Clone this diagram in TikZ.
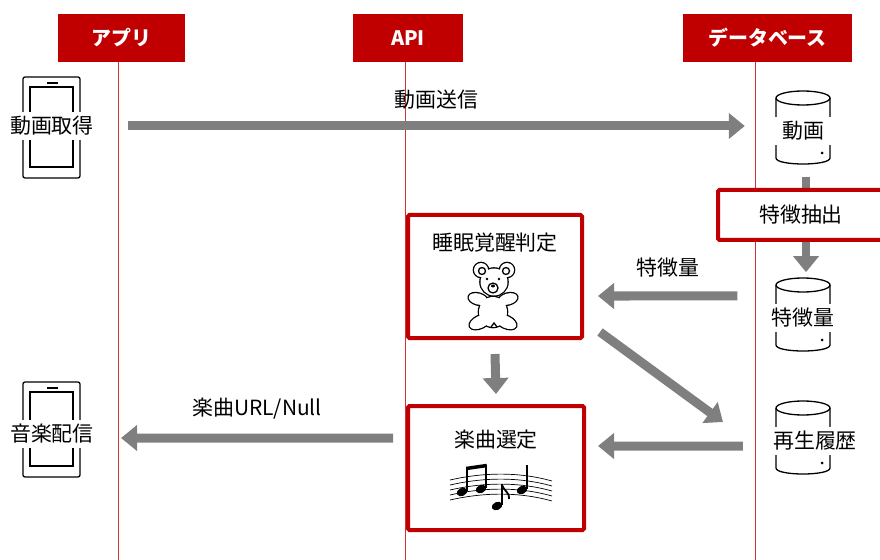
\documentclass[tikz,border=0pt]{standalone}
\usepackage{fontspec}
\newfontfamily\jpfont{Noto Sans CJK JP}
\usepackage{tikz}
\usetikzlibrary{arrows.meta,positioning,calc}

\definecolor{hdrred}{HTML}{C00000}
\definecolor{flowgray}{HTML}{7F7F7F}

% smartphone outline with its caption on top
\newcommand{\handset}[5]{%
	\draw[icon, rounded corners=2bp] (23,#2) rectangle (80,#3);
	\draw[icon] (30,#2+10) rectangle (73,#3-11);
	\draw[icon] (47,#2+6) -- (58,#2+6);
	\node[tag] (#1) at (52,#4) {#5};
}

% storage cylinder: name, x, y, text, text shift
\newcommand{\storage}[5]{%
	\draw[icon] (#2,#3-33) ellipse[x radius=27, y radius=7];
	\draw[icon] (#2-27,#3-33) -- (#2-27,#3+27) .. controls (#2-27,#3+35) and (#2+27,#3+35) .. (#2+27,#3+27) -- (#2+27,#3-33);
	\fill (#2+19,#3+22) circle[radius=1.5];
	\node[tag, minimum width=66bp] (#1) at (#2+#5,#3) {#4};
}

\begin{document}
\begin{tikzpicture}[x=1bp,y=-1bp,>={Triangle[length=16bp,width=25bp]},
	every node/.style={font=\jpfont\fontsize{21}{25}\selectfont},
	lane/.style={fill=hdrred, text=white, inner sep=0pt, minimum height=48bp,
		font=\jpfont\bfseries\fontsize{20}{24}\selectfont},
	life/.style={draw=hdrred!80, line width=0.9bp},
	task/.style={draw=hdrred, line width=4bp, fill=white, rounded corners=1.5bp},
	flow/.style={->, draw=flowgray, line width=9bp},
	icon/.style={line width=1.3bp},
	tag/.style={fill=white, inner xsep=2bp, inner ysep=4bp},
	note/.style={inner sep=0pt}]

	\useasboundingbox (0,0) rectangle (880,560);

	% lanes
	\node[lane, minimum width=127bp] (app) at (121.5,38) {アプリ};
	\node[lane, minimum width=110bp] (api) at (408,38) {API};
	\node[lane, minimum width=169bp] (db) at (767.5,38) {データベース};

	\coordinate (appEnd) at (118,560);
	\coordinate (apiEnd) at (405,560);
	\coordinate (dbEnd) at (755,560);
	\draw[life] (app.south -| appEnd) -- (appEnd);
	\draw[life] (api.south -| apiEnd) -- (apiEnd);
	\draw[life] (db.south -| dbEnd) -- (dbEnd);

	% app side
	\handset{getvid}{77}{178}{126}{動画取得}
	\handset{play}{382}{477}{434}{音楽配信}

	% database side
	\storage{vid}{803}{131}{動画}{0}
	\storage{feat}{803}{318}{特徴量}{0}
	\storage{hist}{803}{441}{再生履歴}{12}

	\draw[flow, line width=8bp] ([shift={(3bp,-32bp)}]vid.south) -- ([shift={(3bp,32bp)}]feat.north);
	\node[task, minimum width=166bp, minimum height=50bp] (extract) at (801,215) {特徴抽出};

	% api side
	\node[task, minimum width=174bp, minimum height=123bp] (sleep) at (495,276.5) {};
	\node (sleepTitle) at (495,243) {睡眠覚醒判定};
	\node[task, minimum width=176bp, minimum height=124bp] (select) at (496,468) {};
	\node (selectTitle) at (496,440) {楽曲選定};

	% teddy bear
	\begin{scope}[shift={(495,296)}]
		\def\bearbody{(-2,16) ellipse[x radius=14, y radius=15]
			(-17,3) ellipse[x radius=9.5, y radius=5.5, rotate=-15]
			(13,3) ellipse[x radius=9.5, y radius=5.5, rotate=15]
			(-15,26) ellipse[x radius=11, y radius=6, rotate=25]
			(11,26) ellipse[x radius=11, y radius=6, rotate=-25]}
		\def\bearhead{(-1,-14) circle[radius=13.5]
			(-14,-26) circle[radius=7] (12,-26) circle[radius=7]}
		\draw[line width=2.6bp] \bearbody;
		\fill[white] \bearbody;
		\draw[line width=2.6bp] \bearhead;
		\fill[white] \bearhead;
		\draw[icon] (-13,-25) circle[radius=3.5] (11,-25) circle[radius=3.5];
		\draw[icon] (-2,-8) circle[radius=5];
		\fill (-2,-10) ellipse[x radius=2, y radius=1.5];
		\fill (-8,-17) circle[radius=1.3] (4,-17) circle[radius=1.3];
		\draw[icon] (-4,31) -- (-1,27) -- (2,31);
	\end{scope}

	% music notes on a staff
	\begin{scope}[shift={(500,490)}]
		\foreach \i in {0,...,4}
			\draw[line width=0.7bp] (-50,-10+5*\i) .. controls (-15,-18+5*\i) and (20,-18+5*\i) .. (52,-9+5*\i);
		\foreach \hx/\hy in {-38/2, -19/-1, -3/16, 22/0}
			\fill (\hx,\hy) ellipse[x radius=5.5, y radius=4, rotate=25];
		\draw[line width=1.6bp] (-33,1) -- (-33,-22);
		\draw[line width=1.6bp] (-14,-2) -- (-14,-25);
		\draw[line width=3.5bp] (-33.8,-21.5) -- (-13.2,-24.5);
		\draw[line width=1.6bp] (2,15) -- (2,-6);
		\draw[line width=1.8bp] (2,-5) .. controls (5,2) and (10,3) .. (9,9);
		\draw[line width=1.6bp] (27,-1) -- (27,-25);
	\end{scope}

	% messages
	\draw[flow] ([xshift=32bp]getvid.east) -- ([xshift=-25bp]getvid.east -| vid.west)
		node[note, midway, above=12bp] {動画送信};
	\draw[flow] ([shift={(-32bp,22bp)}]feat.west) -- ([shift={(14bp,-19.5bp)}]sleep.east)
		node[note, midway, above=14bp] {特徴量};
	\draw[flow] ([yshift=-14bp]sleep.south) -- ([yshift=10bp]select.north);
	\draw[flow] ([shift={(16bp,8bp)}]sleep.south east) -- ([shift={(-48bp,19bp)}]hist.west);
	\draw[flow] ([shift={(-28bp,-5bp)}]hist.west) -- ([shift={(12bp,22bp)}]select.east);
	\draw[flow] ([shift={(-13bp,30bp)}]select.west) -- ([shift={(25bp,-4bp)}]play.east)
		node[note, midway, above=14bp] {楽曲URL/Null};

\end{tikzpicture}
\end{document}
